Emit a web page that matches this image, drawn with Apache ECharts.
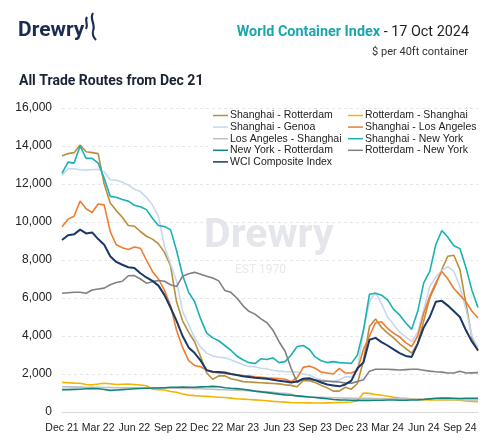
<!DOCTYPE html>
<html>
<head>
<meta charset="utf-8">
<script src="https://cdn.jsdelivr.net/npm/echarts@6/dist/echarts.min.js"></script>
<style>
  html, body { margin: 0; padding: 0; background: #fff; }
  #chart { width: 499px; height: 446px; }
</style>
</head>
<body>
<div id="chart"></div>
<script>
// half-month steps, Dec 21 .. Oct 24
const months = ["Dec 21", "Jan 22", "Feb 22", "Mar 22", "Apr 22", "May 22", "Jun 22", "Jul 22",
    "Aug 22", "Sep 22", "Oct 22", "Nov 22", "Dec 22", "Jan 23", "Feb 23", "Mar 23", "Apr 23",
    "May 23", "Jun 23", "Jul 23", "Aug 23", "Sep 23", "Oct 23", "Nov 23", "Dec 23", "Jan 24",
    "Feb 24", "Mar 24", "Apr 24", "May 24", "Jun 24", "Jul 24", "Aug 24", "Sep 24", "Oct 24"];

const shanghaiRotterdam = [13470, 13600, 13650, 14050, 13700, 13650, 13600, 12000, 11000, 10600,
    10250, 9820, 9780, 9500, 9250, 9100, 8850, 8400, 7700, 5800, 4800, 4200, 3700, 2900, 2050,
    1720, 1900, 1900, 1750, 1680, 1600, 1580, 1560, 1540, 1520, 1500, 1480, 1430, 1400, 1330,
    1650, 1650, 1550, 1400, 1270, 1100, 1100, 1300, 1200, 1500, 2700, 4500, 4900, 4450, 4150,
    3900, 3600, 3350, 3100, 3600, 4800, 6000, 6700, 7500, 8200, 8250, 7500, 5700, 3900, 3200];

const rotterdamShanghai = [1560, 1540, 1520, 1510, 1450, 1430, 1470, 1510, 1490, 1450, 1460,
    1470, 1450, 1420, 1380, 1200, 1180, 1160, 1080, 1040, 950, 890, 860, 840, 820, 800, 780,
    760, 730, 700, 680, 660, 640, 620, 590, 560, 540, 520, 500, 490, 490, 480, 470, 470, 480,
    490, 500, 510, 530, 600, 1000, 980, 920, 880, 830, 780, 740, 720, 680, 660, 650, 640, 650,
    640, 630, 630, 620, 580, 560, 540];

const shanghaiGenoa = [12450, 12800, 12800, 12750, 12720, 12750, 12780, 12650, 12220, 12200,
    12100, 11950, 11720, 11600, 11300, 10900, 10300, 8700, 7800, 6900, 5300, 4600, 3900, 3400,
    3100, 2950, 2880, 2850, 2750, 2620, 2500, 2400, 2380, 2300, 2260, 2200, 2150, 2120, 2120,
    2100, 2000, 1950, 1800, 1700, 1650, 1600, 1700, 1850, 1850, 2200, 4300, 5800, 6300, 5700,
    5000, 4600, 4200, 3950, 3700, 4200, 5400, 6600, 7100, 7450, 7650, 7400, 6600, 5400, 4000, 3400];

const shanghaiLosAngeles = [9750, 10150, 10300, 11100, 10700, 10500, 10950, 10900, 9500, 8800,
    8650, 8550, 8680, 8620, 8000, 7400, 7000, 6400, 5600, 4300, 3400, 2700, 2450, 2380, 2200,
    2100, 2050, 2030, 2000, 1950, 1920, 1900, 1850, 1830, 1800, 1780, 1760, 1720, 1600, 1800,
    2350, 2420, 2300, 2100, 2050, 2000, 2300, 2050, 2050, 2200, 3300, 4000, 4700, 4750, 4400,
    4150, 3950, 3650, 3450, 4000, 5200, 6100, 6800, 7400, 7000, 6500, 6150, 5800, 5300, 4950];

const losAngelesShanghai = [1330, 1320, 1320, 1310, 1300, 1300, 1300, 1290, 1290, 1280, 1280,
    1280, 1270, 1270, 1260, 1260, 1260, 1250, 1250, 1250, 1240, 1240, 1230, 1220, 1210, 1200,
    1180, 1170, 1160, 1150, 1130, 1120, 1100, 1080, 1060, 1040, 1000, 990, 950, 820, 800, 790,
    780, 770, 760, 750, 740, 730, 720, 720, 720, 720, 710, 710, 700, 700, 690, 690, 680, 680,
    680, 670, 670, 660, 660, 650, 650, 640, 640, 640];

const shanghaiNewYork = [12560, 13150, 13100, 14000, 13350, 13350, 13100, 12300, 11350, 11300,
    11180, 11100, 10880, 10800, 10650, 10200, 9820, 9760, 9600, 8500, 7200, 6300, 5800, 4900,
    4150, 3900, 3750, 3500, 3250, 2950, 2750, 2600, 2550, 2800, 2760, 2850, 2600, 2650, 3000,
    3450, 3500, 3300, 2900, 2700, 2600, 2650, 2600, 2580, 2560, 3000, 4300, 6200, 6250, 6150,
    5900, 5400, 5110, 4700, 4350, 5300, 6800, 7400, 8800, 9550, 9200, 8750, 8600, 7600, 6400, 5500];

const newYorkRotterdam = [1180, 1180, 1190, 1200, 1220, 1230, 1220, 1180, 1140, 1160, 1180, 1200,
    1220, 1240, 1250, 1260, 1260, 1280, 1300, 1300, 1310, 1300, 1300, 1320, 1330, 1350, 1330,
    1280, 1250, 1230, 1200, 1150, 1100, 1060, 1020, 980, 940, 900, 880, 850, 820, 790, 760, 730,
    700, 660, 640, 630, 620, 610, 610, 610, 620, 620, 630, 630, 620, 620, 630, 640, 660, 690,
    720, 740, 730, 720, 710, 720, 720, 720];

const rotterdamNewYork = [6250, 6280, 6300, 6300, 6250, 6420, 6470, 6520, 6700, 6820, 6880, 7170,
    7180, 7000, 6780, 6860, 6920, 6880, 6700, 6600, 7150, 7280, 7350, 7250, 7150, 7050, 6900,
    6400, 6300, 6000, 5600, 5300, 5150, 4900, 4700, 4300, 3700, 3200, 2300, 1550, 1750, 1700,
    1680, 1640, 1620, 1600, 1580, 1520, 1520, 1600, 1700, 2150, 2250, 2250, 2250, 2230, 2210,
    2230, 2250, 2250, 2200, 2150, 2120, 2100, 2050, 2050, 2150, 2050, 2060, 2070];

const wciComposite = [9050, 9300, 9350, 9600, 9400, 9450, 9100, 8800, 8200, 7900, 7750, 7620,
    7580, 7300, 7080, 6900, 6650, 6150, 5500, 4800, 4000, 3400, 3100, 2700, 2200, 2120, 2100,
    2080, 2000, 1950, 1880, 1840, 1800, 1780, 1750, 1700, 1650, 1600, 1550, 1600, 1750, 1780,
    1680, 1550, 1450, 1400, 1350, 1450, 1650, 2300, 2600, 3800, 3900, 3680, 3500, 3300, 3100,
    2950, 2900, 3600, 4450, 5000, 5800, 5850, 5600, 5300, 5000, 4300, 3700, 3250];

const yTicks = [0, 2000, 4000, 6000, 8000, 10000, 12000, 14000, 16000];

const routes = [
    { name: "Shanghai - Rotterdam", data: shanghaiRotterdam, color: "#b98f3b" },
    { name: "Rotterdam - Shanghai", data: rotterdamShanghai, color: "#f5b400" },
    { name: "Shanghai - Genoa", data: shanghaiGenoa, color: "#c5d8f0" },
    { name: "Shanghai - Los Angeles", data: shanghaiLosAngeles, color: "#ef7d31" },
    { name: "Los Angeles - Shanghai", data: losAngelesShanghai, color: "#bfbfbf" },
    { name: "Shanghai - New York", data: shanghaiNewYork, color: "#1bb0b3" },
    { name: "New York - Rotterdam", data: newYorkRotterdam, color: "#12827d" },
    { name: "Rotterdam - New York", data: rotterdamNewYork, color: "#808080" },
    { name: "WCI Composite Index", data: wciComposite, color: "#1b3867" }
];

const dates = [];
months.forEach(m => { dates.push("01 " + m); dates.push("16 " + m); });

const chart = echarts.init(document.getElementById("chart"));

// plain line as legend icon, no marker
const legendBase = {
    orient: "vertical",
    top: 110,
    padding: 0,
    icon: "path://M0,0 L30,0 L30,3 L0,3 Z",
    itemWidth: 15,
    itemHeight: 14,
    itemGap: 0.6,
    textStyle: { fontFamily: "Liberation Sans", fontSize: 10.5, color: "#222", padding: [0, 0, 0, -3] }
};

const logoColor = "#1b2c52";

chart.setOption({
    animation: false,
    textStyle: { fontFamily: "Liberation Sans" },
    grid: { left: 62, right: 21, top: 108, bottom: 34 },
    legend: [
        Object.assign({}, legendBase, {
            left: 213,
            data: [routes[0].name, routes[2].name, routes[4].name, routes[6].name, routes[8].name]
        }),
        Object.assign({}, legendBase, {
            left: 348,
            data: [routes[1].name, routes[3].name, routes[5].name, routes[7].name]
        })
    ],
    graphic: [
        // legend backdrop
        { type: "rect", z: 1, shape: { x: 208, y: 110, width: 272, height: 72 }, style: { fill: "#fff" } },
        // watermark
        { type: "text", z: 1, x: 204, y: 216,
          style: { text: "Drewry", font: "bold 41px Roboto", fill: "#e4e6ec" } },
        { type: "text", z: 1, x: 235, y: 264,
          style: { text: "EST 1970", font: "12px Roboto", fill: "#e8e9ed" } },
        // logo
        { type: "text", x: 18, y: 20,
          style: { text: "Drewry", font: "bold 21px Roboto", fill: logoColor } },
        { type: "bezierCurve",
          shape: { x1: 87, y1: 17, cpx1: 84, cpy1: 21, cpx2: 89, cpy2: 24, x2: 86, y2: 29 },
          style: { stroke: logoColor, lineWidth: 2.2, fill: null } },
        { type: "bezierCurve",
          shape: { x1: 93, y1: 13, cpx1: 89, cpy1: 19, cpx2: 96, cpy2: 24, x2: 93, y2: 31 },
          style: { stroke: logoColor, lineWidth: 2.2, fill: null } },
        { type: "bezierCurve",
          shape: { x1: 93, y1: 31, cpx1: 92, cpy1: 35, cpx2: 94, cpy2: 38, x2: 96, y2: 40 },
          style: { stroke: logoColor, lineWidth: 2, fill: null } },
        // header
        { type: "text", right: 30, top: 25,
          style: { rich: {
              a: { font: "bold 14.4px Roboto", fill: "#1aa6af" },
              b: { font: "14.4px Roboto", fill: "#222" }
          }, text: "{a|World Container Index}{b| - 17 Oct 2024}" } },
        { type: "text", right: 31, top: 47,
          style: { text: "$ per 40ft container", font: "11px Roboto", fill: "#333" } },
        { type: "text", x: 19, y: 74,
          style: { text: "All Trade Routes from Dec 21", font: "bold 14px Roboto", fill: "#1b2233" } }
    ],
    xAxis: {
        type: "category",
        data: dates,
        boundaryGap: false,
        axisLine: { lineStyle: { color: "#d9d9d9", width: 1 } },
        axisTick: { show: false },
        axisLabel: {
            interval: 5,
            margin: 11,
            fontSize: 10.5,
            color: "#222",
            formatter: v => v.slice(3)
        },
        splitLine: { show: false }
    },
    yAxis: {
        type: "value",
        min: yTicks[0],
        max: yTicks[yTicks.length - 1],
        interval: yTicks[1] - yTicks[0],
        axisLine: { show: false },
        axisTick: { show: false },
        axisLabel: {
            fontSize: 12,
            color: "#222",
            margin: 10,
            formatter: v => v.toLocaleString("en-US")
        },
        splitLine: { lineStyle: { color: "#e6e6e6", type: [3, 3] } }
    },
    series: routes.map((r, i) => ({
        name: r.name,
        type: "line",
        data: r.data,
        symbol: "none",
        color: r.color,
        z: i === 8 ? 4 : 3,
        lineStyle: { width: i === 8 ? 2 : 1.6, color: r.color }
    }))
});
</script>
</body>
</html>
